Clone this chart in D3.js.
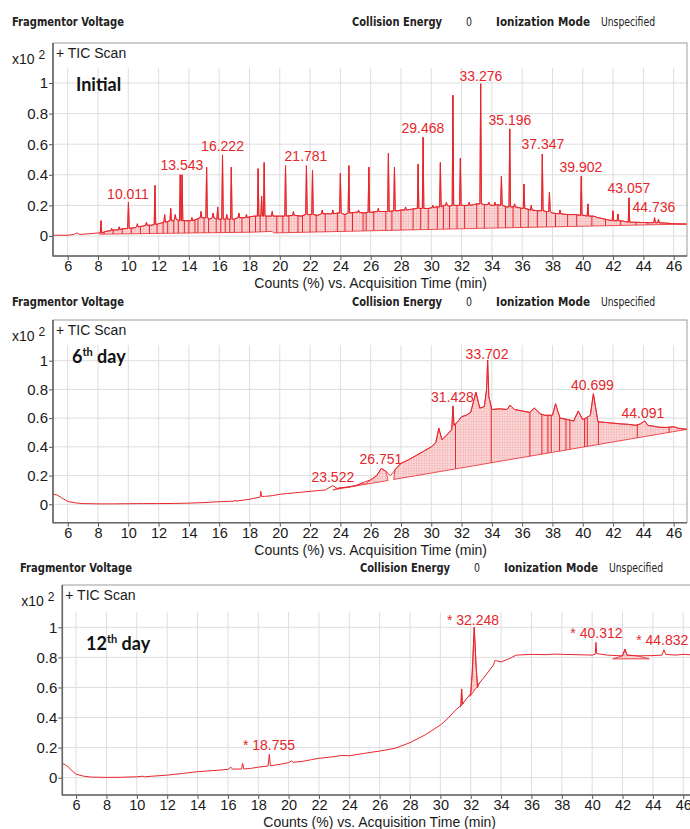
<!DOCTYPE html>
<html>
<head>
<meta charset="utf-8">
<script src="https://cdn.jsdelivr.net/npm/d3@7"></script>
<style>
body { margin: 0; background: #fff; }
text { font-family: "Liberation Sans", Arial, sans-serif; }
</style>
</head>
<body>
<script>
var width = 690;
var height = 829;
var red = "#e6262c";

// ---------- data ----------
var xTicks = [6, 8, 10, 12, 14, 16, 18, 20, 22, 24, 26, 28, 30, 32, 34, 36, 38, 40, 42, 44, 46];
var yTicks = [0, 0.2, 0.4, 0.6, 0.8, 1];
var headerLabels = ["Fragmentor Voltage", "Collision Energy", "0", "Ionization Mode", "Unspecified"];
var xTitle = "Counts (%) vs. Acquisition Time (min)";

// Initial: background trace [time, value]
var initBase = [[5.03,0.005],[6.0,0.005],[6.4,0.01],[6.6,0.02],[6.8,0.01],[7.0,0.012],[7.5,0.015],[8.0,0.02],
  [8.5,0.03],[9.0,0.04],[9.5,0.045],[10.5,0.055],[11.0,0.065],[11.5,0.07],[12.0,0.08],[12.6,0.095],[13.0,0.1],
  [13.8,0.1],[14.5,0.11],[15.0,0.12],[15.4,0.11],[16.0,0.11],[17.0,0.11],[17.5,0.12],[18.0,0.125],[18.3,0.13],
  [19.2,0.13],[20.0,0.13],[21.0,0.135],[21.4,0.13],[22.0,0.14],[22.5,0.135],[23.0,0.145],[23.8,0.15],[24.3,0.14],
  [25.0,0.155],[25.5,0.15],[26.0,0.155],[27.0,0.16],[27.8,0.165],[28.0,0.17],[28.7,0.175],[29.0,0.18],[29.8,0.18],
  [30.3,0.19],[30.8,0.2],[31.2,0.195],[32.0,0.2],[32.8,0.205],[33.0,0.21],[33.5,0.205],[34.0,0.2],[34.4,0.205],
  [35.0,0.19],[35.8,0.185],[36.0,0.18],[36.4,0.175],[37.0,0.165],[37.6,0.16],[38.0,0.15],[39.0,0.14],[39.5,0.14],
  [40.1,0.135],[40.7,0.13],[41.0,0.12],[41.7,0.105],[42.6,0.098],[43.4,0.09],[44.0,0.088],[44.4,0.087],[45.4,0.085],
  [46.0,0.08],[46.85,0.078]];
// Initial: peaks [time, apex, foot]
var initPeaks = [[8.2,0.10,0.02],[8.9,0.05,0.035],[9.4,0.06,0.04],[10.01,0.22,0.05],[10.6,0.08,0.06],[11.2,0.09,0.07],
  [11.76,0.33,0.075],[12.4,0.14,0.09],[12.8,0.18,0.1],[13.1,0.14,0.11],[13.43,0.40,0.1],[13.55,0.40,0.1],[14.2,0.12,0.1],
  [14.8,0.16,0.12],[15.17,0.45,0.12],[15.6,0.15,0.12],[15.9,0.19,0.11],[16.22,0.53,0.11],[16.5,0.14,0.11],[16.8,0.45,0.11],
  [17.3,0.15,0.12],[17.8,0.14,0.12],[18.57,0.44,0.13],[18.8,0.26,0.13],[18.97,0.48,0.13],[19.5,0.16,0.13],[20.38,0.46,0.13],
  [20.9,0.16,0.135],[21.76,0.46,0.14],[22.16,0.43,0.14],[22.8,0.17,0.145],[23.5,0.17,0.145],[24.0,0.41,0.15],[24.56,0.46,0.15],
  [25.2,0.17,0.155],[25.88,0.45,0.155],[26.5,0.18,0.16],[27.17,0.54,0.16],[27.57,0.45,0.165],[28.3,0.19,0.17],[29.13,0.47,0.18],
  [29.46,0.645,0.18],[30.1,0.2,0.185],[30.6,0.48,0.19],[31.0,0.22,0.2],[31.43,0.92,0.2],[31.92,0.51,0.2],[32.5,0.22,0.2],
  [33.26,0.995,0.21],[33.8,0.22,0.205],[34.2,0.22,0.2],[34.63,0.39,0.2],[35.18,0.70,0.19],[35.5,0.21,0.19],[36.12,0.34,0.18],
  [36.6,0.2,0.17],[37.33,0.536,0.165],[37.8,0.285,0.16],[38.5,0.17,0.145],[39.9,0.39,0.135],[40.34,0.21,0.13],
  [41.99,0.165,0.1],[42.32,0.144,0.1],[43.05,0.25,0.09],[44.74,0.12,0.087],[45.0,0.11,0.086]];
var initIntegrations = [[[8.1,0.012],[18.2,0.025],[19.5,0.03],[19.6,0.02],[33.2,0.05],[46.85,0.078]]];
var initDrops = [8.4,9.0,9.6,10.2,10.8,11.4,11.9,12.3,12.6,13.0,13.3,13.7,14.0,14.4,14.6,15.0,15.3,15.8,16.1,16.4,16.7,
  17.0,17.5,18.0,18.4,18.7,19.1,19.8,20.2,20.6,21.2,21.5,22.0,22.4,23.0,23.8,24.3,24.8,25.5,25.7,26.2,27.0,27.4,28.0,
  28.8,29.3,29.8,30.4,30.8,31.2,31.7,32.2,33.0,33.5,34.4,34.9,35.4,35.9,36.4,37.0,37.6,38.2,39.0,39.6,40.6,41.5,42.5,43.5,44.3];
var initLabels = [["10.011",9.98,0.275],["13.543",13.54,0.464],["16.222",16.22,0.588],["21.781",21.73,0.523],
  ["29.468",29.45,0.708],["33.276",33.28,1.048],["35.196",35.19,0.758],["37.347",37.37,0.60],["39.902",39.88,0.449],
  ["43.057",43.05,0.316],["44.736",44.70,0.192]];

// 6th day
var day6Trace = [[5.03,0.07],[5.3,0.065],[5.6,0.045],[6.0,0.02],[6.5,0.01],[7,0.005],[8,0.003],[9,0.003],[10,0.004],
  [11,0.005],[12,0.005],[13,0.006],[14,0.008],[15,0.012],[16,0.018],[17,0.022],[17.05,0.03],[17.1,0.022],[18,0.035],
  [18.7,0.05],[18.75,0.09],[18.8,0.055],[19,0.055],[19.5,0.06],[20,0.07],[20.5,0.075],[21,0.08],[21.5,0.085],[22,0.09],
  [22.5,0.095],[23,0.1],[23.5,0.13],[23.8,0.11],[24,0.115],[24.5,0.12],[25,0.13],[25.5,0.15],[25.6,0.155],[26,0.17],
  [26.4,0.2],[26.7,0.25],[27,0.23],[27.15,0.215],[27.3,0.2],[27.52,0.225],[27.6,0.24],[28,0.285],[28.5,0.31],[29,0.34],
  [29.5,0.37],[30,0.40],[30.3,0.43],[30.5,0.53],[30.7,0.45],[31,0.48],[31.35,0.52],[31.43,0.685],[31.5,0.55],[31.7,0.57],
  [32,0.61],[32.3,0.62],[32.6,0.64],[32.95,0.78],[33.2,0.67],[33.5,0.68],[33.65,0.8],[33.72,1.005],[33.8,0.75],[34,0.66],
  [34.5,0.665],[35,0.66],[35.2,0.69],[35.5,0.66],[36,0.65],[36.5,0.64],[36.8,0.67],[37.2,0.63],[37.5,0.62],[38,0.62],
  [38.2,0.70],[38.5,0.6],[39,0.59],[39.4,0.58],[39.7,0.65],[40,0.59],[40.2,0.6],[40.5,0.62],[40.7,0.77],[41,0.575],
  [41.5,0.57],[42,0.565],[42.5,0.56],[43,0.557],[43.5,0.55],[43.8,0.56],[44.09,0.58],[44.3,0.55],[44.6,0.545],[45,0.537],
  [45.5,0.535],[46,0.54],[46.3,0.53],[46.88,0.522]];
var day6Integrations = [[[23.5,0.10],[25.6,0.138]], [[25.6,0.138],[27.15,0.166]], [[27.52,0.173],[46.88,0.522]]];
var day6Drops = [31.6,33.96,36.51,37.3,37.7,37.92,38.47,38.89,39.15,40.12,40.3,41.03,43.6,45.7];
var day6Labels = [["23.522",23.5,0.192],["26.751",26.68,0.313],["31.428",31.4,0.745],["33.702",33.68,1.05],
  ["40.699",40.64,0.83],["44.091",43.97,0.638]];

// 12th day
var day12Trace = [[5.09,0.096],[5.3,0.085],[5.5,0.07],[5.8,0.04],[6,0.023],[6.5,0.01],[7,0.004],[8,0.002],[9,0.003],
  [10,0.006],[10.4,0.01],[10.5,0.006],[11,0.01],[12,0.017],[13,0.028],[14,0.04],[15,0.047],[16,0.055],[16.2,0.07],
  [16.3,0.057],[16.9,0.058],[16.97,0.096],[17.05,0.058],[17.5,0.062],[18,0.07],[18.65,0.078],[18.73,0.155],[18.8,0.08],
  [19,0.082],[19.5,0.09],[20,0.1],[20.2,0.113],[20.3,0.102],[21,0.11],[21.5,0.12],[22,0.129],[23,0.14],[23.5,0.148],
  [24,0.146],[25,0.162],[25.5,0.17],[26,0.177],[27,0.195],[28,0.233],[29,0.285],[30,0.35],[30.5,0.395],[31,0.45],
  [31.35,0.48],[31.4,0.59],[31.45,0.49],[32,0.56],[32.1,0.7],[32.23,1.0],[32.35,0.75],[32.45,0.6],[32.5,0.62],[33,0.683],
  [33.5,0.75],[33.6,0.78],[34,0.77],[34.5,0.79],[35,0.815],[36,0.82],[37,0.818],[37.5,0.822],[38,0.82],[39,0.818],
  [40,0.815],[40.2,0.82],[40.25,0.9],[40.3,0.825],[41,0.815],[42,0.81],[42.16,0.855],[42.3,0.815],[43,0.81],[44,0.812],
  [44.6,0.815],[44.73,0.85],[44.85,0.82],[45.5,0.815],[46,0.82],[47,0.815],[47.5,0.815]];
var day12Integrations = [[[31.3,0.47],[31.55,0.5]], [[31.95,0.54],[32.6,0.63]], [[41.35,0.79],[43.76,0.79]]];
var day12Drops = [];
var day12Labels = [["* 18.755",18.71,0.217],["* 32.248",32.15,1.05],["* 40.312",40.28,0.964],["* 44.832",44.62,0.916]];

// ---------- layout ----------
var headerX = [12, 352, 466, 496, 601];
var headerW = [112, 90, 6, 94, 54];
var headerBold = [true, true, false, true, false];

var panels = [
  {name: "Initial", sup: "", nameX: 76, nameY: 91,
   header: 26, shift: 0, left: 53, right: 687, xDomain: [5.03, 46.88],
   boxTop: 43, gridTop: 68, zeroY: 236, oneY: 83, axisY: 256,
   trace: null, base: initBase, peaks: initPeaks, integ: initIntegrations, drops: initDrops, labels: initLabels},
  {name: "6", sup: "th", rest: " day", nameX: 72, nameY: 363,
   header: 306, shift: 0, left: 53, right: 687, xDomain: [5.03, 46.88],
   boxTop: 320, gridTop: 345, zeroY: 504.3, oneY: 360.7, axisY: 522.7,
   trace: day6Trace, integ: day6Integrations, drops: day6Drops, labels: day6Labels},
  {name: "12", sup: "th", rest: " day", nameX: 86, nameY: 650,
   header: 572, shift: 8, left: 62.3, right: 706, xDomain: [5.09, 47.5],
   boxTop: 585, gridTop: 612, zeroY: 777.7, oneY: 627.3, axisY: 795,
   trace: day12Trace, integ: day12Integrations, drops: day12Drops, labels: day12Labels}
];

var svg = d3.select("body").append("svg")
    .attr("width", width)
    .attr("height", height);

var defs = svg.append("defs");
var pat = defs.append("pattern")
    .attr("id", "hatch")
    .attr("patternUnits", "userSpaceOnUse")
    .attr("width", 2.6).attr("height", 2.6);
pat.append("rect").attr("width", 2.6).attr("height", 2.6).attr("fill", "#fbdada");
pat.append("path").attr("d", "M0,0H2.6M0,0V2.6").attr("stroke", "#ef8f91").attr("stroke-width", 0.6);

function buildTrace(base, peaks) {
  var hw = 0.05;
  var pts = base.slice();
  peaks.forEach(function(p) {
    pts.push([p[0] - hw, p[2]], [p[0], p[1]], [p[0] + hw, p[2]]);
  });
  pts.sort(function(a, b) { return a[0] - b[0]; });
  return pts;
}

function drawPanel(p, i) {
  var x = d3.scaleLinear().domain(p.xDomain).range([p.left, p.right]);
  var y = d3.scaleLinear().domain([0, 1]).range([p.zeroY, p.oneY]);
  var trace = p.trace || buildTrace(p.base, p.peaks);
  var g = svg.append("g");

  // header line
  headerLabels.forEach(function(t, k) {
    g.append("text")
      .attr("x", headerX[k] + p.shift)
      .attr("y", p.header)
      .attr("font-size", 12.5)
      .attr("font-weight", headerBold[k] ? "bold" : "normal")
      .attr("fill", "#222")
      .attr("textLength", headerW[k])
      .attr("lengthAdjust", "spacingAndGlyphs")
      .style("font-family", "'Liberation Sans Narrow', 'DejaVu Sans Condensed', sans-serif")
      .text(t);
  });

  // grid
  g.selectAll(".vg").data(xTicks).enter().append("line")
    .attr("x1", function(d) { return x(d); }).attr("x2", function(d) { return x(d); })
    .attr("y1", p.gridTop).attr("y2", p.axisY)
    .attr("stroke", "#dedede");
  g.selectAll(".hg").data(yTicks).enter().append("line")
    .attr("x1", p.left).attr("x2", p.right)
    .attr("y1", function(d) { return y(d); }).attr("y2", function(d) { return y(d); })
    .attr("stroke", "#dedede");

  // box
  g.append("rect")
    .attr("x", p.left).attr("y", p.boxTop)
    .attr("width", p.right - p.left).attr("height", p.axisY - p.boxTop)
    .attr("fill", "none").attr("stroke", "#9c9c9c");

  // integrated areas
  var line = d3.line().x(function(d) { return x(d[0]); }).y(function(d) { return y(d[1]); });
  var polys = p.integ.map(function(b) {
    var t0 = b[0][0], t1 = b[b.length - 1][0];
    var top = trace.filter(function(d) { return d[0] > t0 && d[0] < t1; });
    return top.concat(b.slice().reverse());
  });
  var clipId = "integ" + i;
  var cp = defs.append("clipPath").attr("id", clipId);
  polys.forEach(function(pl) { cp.append("path").attr("d", line(pl) + "Z"); });

  polys.forEach(function(pl) {
    g.append("path").attr("d", line(pl) + "Z")
      .attr("fill", "url(#hatch)").attr("stroke", red).attr("stroke-width", 0.8);
  });
  g.append("g").attr("clip-path", "url(#" + clipId + ")")
    .selectAll("line").data(p.drops).enter().append("line")
    .attr("x1", function(d) { return x(d); }).attr("x2", function(d) { return x(d); })
    .attr("y1", p.gridTop).attr("y2", p.axisY)
    .attr("stroke", red).attr("stroke-width", 1);

  // trace
  var pc = "plot" + i;
  defs.append("clipPath").attr("id", pc).append("rect")
    .attr("x", p.left).attr("y", p.gridTop - 20)
    .attr("width", p.right - p.left).attr("height", p.axisY - p.gridTop + 20);
  g.append("path").datum(trace)
    .attr("clip-path", "url(#" + pc + ")")
    .attr("d", line)
    .attr("fill", "none").attr("stroke", red).attr("stroke-width", 1)
    .attr("stroke-linejoin", "round");

  // axes
  var xAxis = d3.axisBottom(x).tickValues(xTicks).tickSize(4).tickSizeOuter(0).tickPadding(1);
  var ax = g.append("g").attr("transform", "translate(0," + p.axisY + ")").call(xAxis);
  ax.select(".domain").remove();
  ax.selectAll("text").attr("font-size", 14.5).attr("fill", "#1a1a1a").style("font-family", "'Liberation Sans', Arial, sans-serif");
  ax.selectAll("line").attr("stroke", "#555");

  var yAxis = d3.axisLeft(y).tickValues(yTicks).tickSize(4).tickSizeOuter(0).tickPadding(1)
    .tickFormat(function(d) { return String(d); });
  var ay = g.append("g").attr("transform", "translate(" + p.left + ",0)").call(yAxis);
  ay.select(".domain").remove();
  ay.selectAll("text").attr("font-size", 15).attr("fill", "#1a1a1a").style("font-family", "'Liberation Sans', Arial, sans-serif");
  ay.selectAll("line").attr("stroke", "#555");

  g.append("line").attr("x1", p.left).attr("x2", p.left).attr("y1", p.boxTop).attr("y2", p.axisY + 0.5)
    .attr("stroke", "#666").attr("stroke-width", 1.6);
  g.append("line").attr("x1", p.left).attr("x2", p.right).attr("y1", p.axisY).attr("y2", p.axisY)
    .attr("stroke", "#666").attr("stroke-width", 1.6);

  // axis title
  g.append("text").attr("x", x(26)).attr("y", p.axisY + 32)
    .attr("text-anchor", "middle").attr("font-size", 14).attr("fill", "#1a1a1a")
    .text(xTitle);

  // scan label and multiplier
  g.append("text").attr("x", p.left + 3).attr("y", p.boxTop + 15)
    .attr("font-size", 14).attr("fill", "#1a1a1a").text("+ TIC Scan");
  var mult = g.append("text").attr("x", p.left - 41).attr("y", p.boxTop + 21)
    .attr("font-size", 14).attr("fill", "#1a1a1a").text("x10 ");
  mult.append("tspan").attr("dy", -5).attr("font-size", 12).text("2");

  // sample name
  var nm = g.append("text").attr("x", p.nameX).attr("y", p.nameY)
    .attr("font-size", 18).attr("font-weight", "bold").attr("fill", "#111")
    .style("font-family", "Lato, 'Open Sans', sans-serif")
    .text(p.name);
  if (p.sup) {
    nm.append("tspan").attr("dy", -7).attr("font-size", 11).text(p.sup);
    nm.append("tspan").attr("dy", 7).text(p.rest);
  }

  // peak labels
  g.selectAll(".pl").data(p.labels).enter().append("text")
    .attr("x", function(d) { return x(d[1]); })
    .attr("y", function(d) { return y(d[2]); })
    .attr("dy", "0.36em")
    .attr("text-anchor", "middle")
    .attr("font-size", 14)
    .attr("fill", red)
    .text(function(d) { return d[0]; });
}

panels.forEach(drawPanel);
</script>
</body>
</html>
